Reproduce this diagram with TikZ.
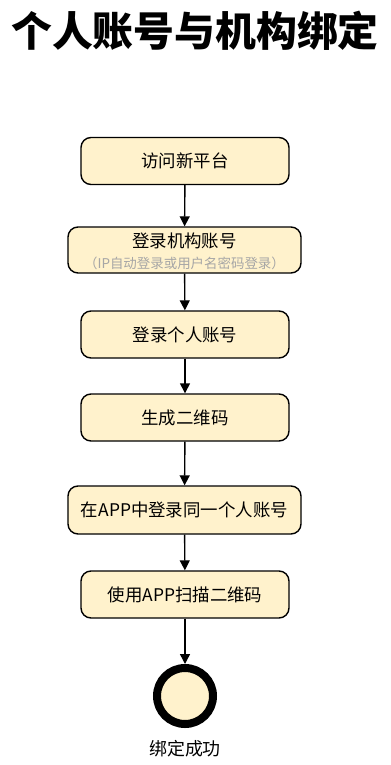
\documentclass[tikz,border=0pt]{standalone}
\usepackage{fontspec}
\setmainfont{Noto Sans CJK SC}
\usetikzlibrary{arrows.meta}
\definecolor{boxfill}{HTML}{FFF2CC}
\definecolor{subgray}{HTML}{A6A6A6}
\begin{document}
\begin{tikzpicture}[x=1bp,y=-1bp,
  stepbox/.style={draw=black,line width=1.4bp,fill=boxfill,rounded corners=10bp,
    minimum width=208bp,minimum height=47bp,inner sep=0pt,
    font=\fontsize{17.5}{20}\selectfont},
  widebox/.style={stepbox,minimum width=233bp},
  flow/.style={line width=1.4bp,-{Triangle[length=10bp,width=10bp]}}]
\useasboundingbox (0,0) rectangle (390,765);
\node[font=\bfseries\fontsize{41}{44}\selectfont] (title) at (195,31) {个人账号与机构绑定};
\node[stepbox] (s1) at (185,161) {访问新平台};
\node[widebox,minimum height=46bp] (s2) at (184.5,250) {};
\node[font=\fontsize{17.5}{20}\selectfont] (s2a) at (184.5,241) {登录机构账号};
\node[font=\fontsize{13.5}{15}\selectfont,text=subgray] (s2b) at (184.5,263) {（IP自动登录或用户名密码登录）};
\node[stepbox] (s3) at (185,334.5) {登录个人账号};
\node[stepbox] (s4) at (185,417.5) {生成二维码};
\node[widebox,minimum height=48bp] (s5) at (184.5,510) {在APP中登录同一个人账号};
\node[stepbox] (s6) at (185,594.5) {使用APP扫描二维码};
\node[circle,draw=black,line width=8bp,fill=boxfill,minimum size=56bp,inner sep=0pt] (end) at (185,696) {};
\node[font=\fontsize{18}{20}\selectfont] (endlabel) at (185,749) {绑定成功};
\draw[flow] (s1) -- (s2);
\draw[flow] (s2) -- (s3);
\draw[flow] (s3) -- (s4);
\draw[flow] (s4) -- (s5);
\draw[flow] (s5) -- (s6);
\draw[flow] (s6) -- (end);
\end{tikzpicture}
\end{document}
